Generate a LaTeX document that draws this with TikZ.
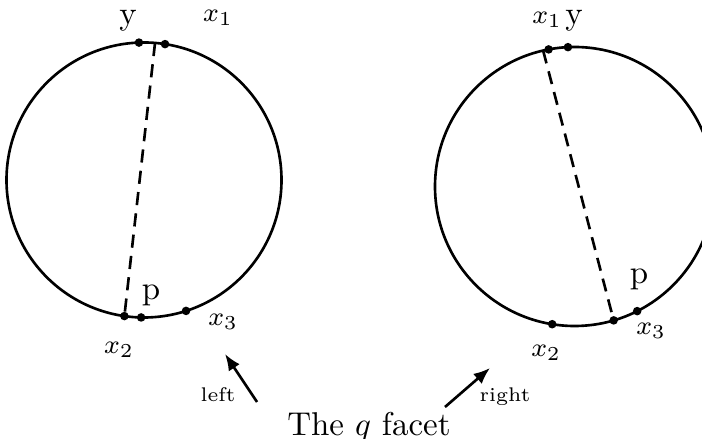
\documentclass[tikz,border=0pt]{standalone}
\usepackage{amsmath}
\usepackage{tikz}
\usetikzlibrary{arrows.meta}
\usetikzlibrary{positioning}
\tikzset{every picture/.style={line width=0.75pt}}

\begin{document}
\begin{tikzpicture}[x=1.066cm, y=1.066cm,
    rim/.style={thick},
    chord/.style={thick, dash pattern=on 4pt off 2.5pt},
    dot/.style={circle, fill, inner sep=0pt, minimum size=2.6pt},
    lbl/.style={inner sep=1pt},
    mlbl/.style={inner sep=1pt, font=\footnotesize},
    side/.style={inner sep=1pt, font=\fontsize{6}{7}\selectfont},
    pointer/.style={thick, -{Latex[length=5pt, width=4pt]}}]
\clip (0,0) rectangle (7.02,4.39);

% left circle
\coordinate (lc) at (1.44,2.59);
\draw[rim] (lc) circle (1.375);
\node[dot] (ly) at ([shift={(92.1:1.375)}]lc) {};
\node[dot] (lx1) at ([shift={(81.2:1.375)}]lc) {};
\coordinate (ltop) at ([shift={(85.4:1.375)}]lc);
\node[dot] (lx2) at ([shift={(261.8:1.375)}]lc) {};
\node[dot] (lp) at ([shift={(268.8:1.375)}]lc) {};
\node[dot] (lx3) at ([shift={(287.8:1.375)}]lc) {};
\draw[chord] (ltop) -- (lx2.center);

\node[lbl] (lylab) at (1.28,4.18) {y};
\node[mlbl] (lx1lab) at (2.18,4.21) {$x_1$};
\node[lbl] (lplab) at (1.51,1.44) {p};
\node[mlbl] (lx3lab) at (2.23,1.17) {$x_3$};
\node[mlbl] (lx2lab) at (1.19,0.89) {$x_2$};

% right circle
\coordinate (rc) at (5.745,2.525);
\draw[rim] (rc) circle (1.395);
\node[dot] (rx1) at ([shift={(100.7:1.395)}]rc) {};
\node[dot] (ry) at ([shift={(92.7:1.395)}]rc) {};
\coordinate (rtop) at ([shift={(103:1.395)}]rc);
\node[dot] (rx2) at ([shift={(260.8:1.395)}]rc) {};
\node[dot] (rp) at ([shift={(286.3:1.395)}]rc) {};
\node[dot] (rx3) at ([shift={(296.7:1.395)}]rc) {};
\draw[chord] (rtop) -- (rp.center);

\node[mlbl] (rx1lab) at (5.47,4.19) {$x_1$};
\node[lbl] (rylab) at (5.74,4.18) {y};
\node[lbl] (rplab) at (6.39,1.60) {p};
\node[mlbl] (rx3lab) at (6.51,1.08) {$x_3$};
\node[mlbl] (rx2lab) at (5.46,0.86) {$x_2$};

% the facet and its two sides
\node[lbl] (facet) at (3.69,0.12) {The $q$ facet};
\coordinate (ltail) at (2.57,0.37);
\coordinate (lhead) at (2.25,0.85);
\coordinate (rtail) at (4.45,0.32);
\coordinate (rhead) at (4.90,0.71);
\draw[pointer] (ltail) -- (lhead);
\draw[pointer] (rtail) -- (rhead);
\node[side] (leftlab) at (2.18,0.44) {left};
\node[side] (rightlab) at (5.05,0.42) {right};
\end{tikzpicture}
\end{document}
